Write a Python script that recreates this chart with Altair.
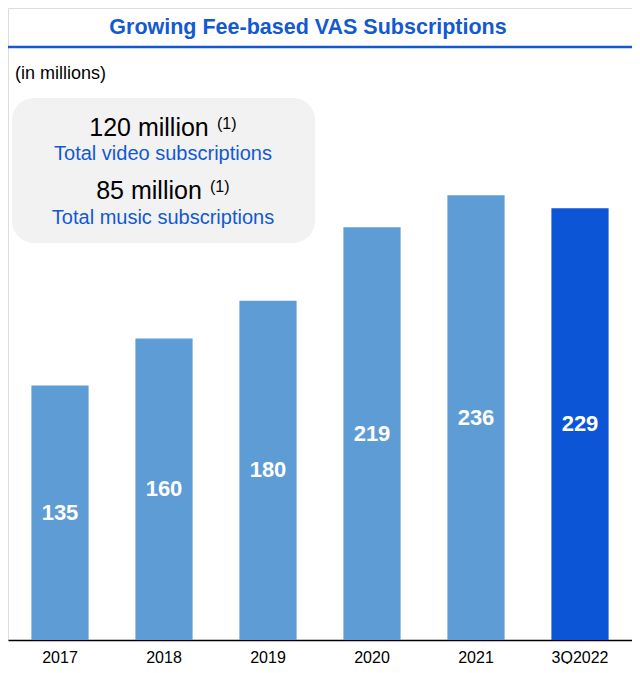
import altair as alt
import pandas as pd

categories = ["2017", "2018", "2019", "2020", "2021", "3Q2022"]
values = [135, 160, 180, 219, 236, 229]
highlight = [False, False, False, False, False, True]

title_text = "Growing Fee-based VAS Subscriptions"
unit_text = "(in millions)"
box_lines = ["120 million", "Total video subscriptions", "85 million", "Total music subscriptions"]

LIGHT = "#5e9cd5"
DARK = "#0b55d6"
TITLE_BLUE = "#1259d2"
FONT = "Liberation Sans"

df = pd.DataFrame({"cat": categories, "value": values, "hl": highlight})
df["mid"] = df["value"] / 2

W, H = 624, 632
ymax = 335.3

xenc = alt.X("cat:N", sort=categories, title=None,
             scale=alt.Scale(paddingInner=0.45, paddingOuter=0.225),
             axis=alt.Axis(labelAngle=0, labelFontSize=16, labelColor="black",
                           labelFont=FONT, domainColor="black", domainWidth=1.5,
                           ticks=False, labelPadding=9, grid=False))

yscale = alt.Scale(domain=[0, ymax], nice=False, zero=True)

bars = alt.Chart(df).mark_bar().encode(
    x=xenc,
    y=alt.Y("value:Q", scale=yscale, axis=None),
    color=alt.Color("hl:N", scale=alt.Scale(domain=[False, True], range=[LIGHT, DARK]), legend=None),
)

labels = alt.Chart(df).mark_text(color="white", fontSize=22, fontWeight="bold", font=FONT).encode(
    x=xenc,
    y=alt.Y("mid:Q", scale=yscale, axis=None),
    text=alt.Text("value:Q"),
)

def txt(s, x, y, size, color="black", weight="normal", align="center"):
    return alt.Chart(pd.DataFrame({"t": [s]})).mark_text(
        fontSize=size, color=color, fontWeight=weight, align=align, baseline="middle", font=FONT
    ).encode(x=alt.value(x), y=alt.value(y), text="t:N")

line = alt.Chart(pd.DataFrame({"a": [0]})).mark_rule(color=TITLE_BLUE, strokeWidth=2.5).encode(
    x=alt.value(-8), x2=alt.value(W), y=alt.value(39)
)

box = alt.Chart(pd.DataFrame({"a": [0]})).mark_rect(color="#f2f2f2", cornerRadius=22).encode(
    x=alt.value(4), x2=alt.value(307), y=alt.value(90), y2=alt.value(235)
)

layers = [
    line,
    txt(title_text, 300, 20, 21.5, TITLE_BLUE, "bold"),
    txt(unit_text, 7, 66, 18, align="left"),
    box,
    txt(box_lines[0], 141, 120, 25),
    txt("(1)", 209, 116, 16, align="left"),
    txt(box_lines[1], 155, 146, 20, TITLE_BLUE),
    txt(box_lines[2], 141, 183, 25),
    txt("(1)", 202, 179, 16, align="left"),
    txt(box_lines[3], 155, 210, 20, TITLE_BLUE),
    bars,
    labels,
]

chart = alt.layer(*layers).properties(
    width=W, height=H,
    autosize=alt.AutoSizeParams(type="none"),
    padding={"left": 0, "top": 0, "right": 0, "bottom": 24},
).configure_view(stroke=None).configure(font=FONT)

chart.save("out.html", embed_options={"renderer": "svg", "actions": False})
